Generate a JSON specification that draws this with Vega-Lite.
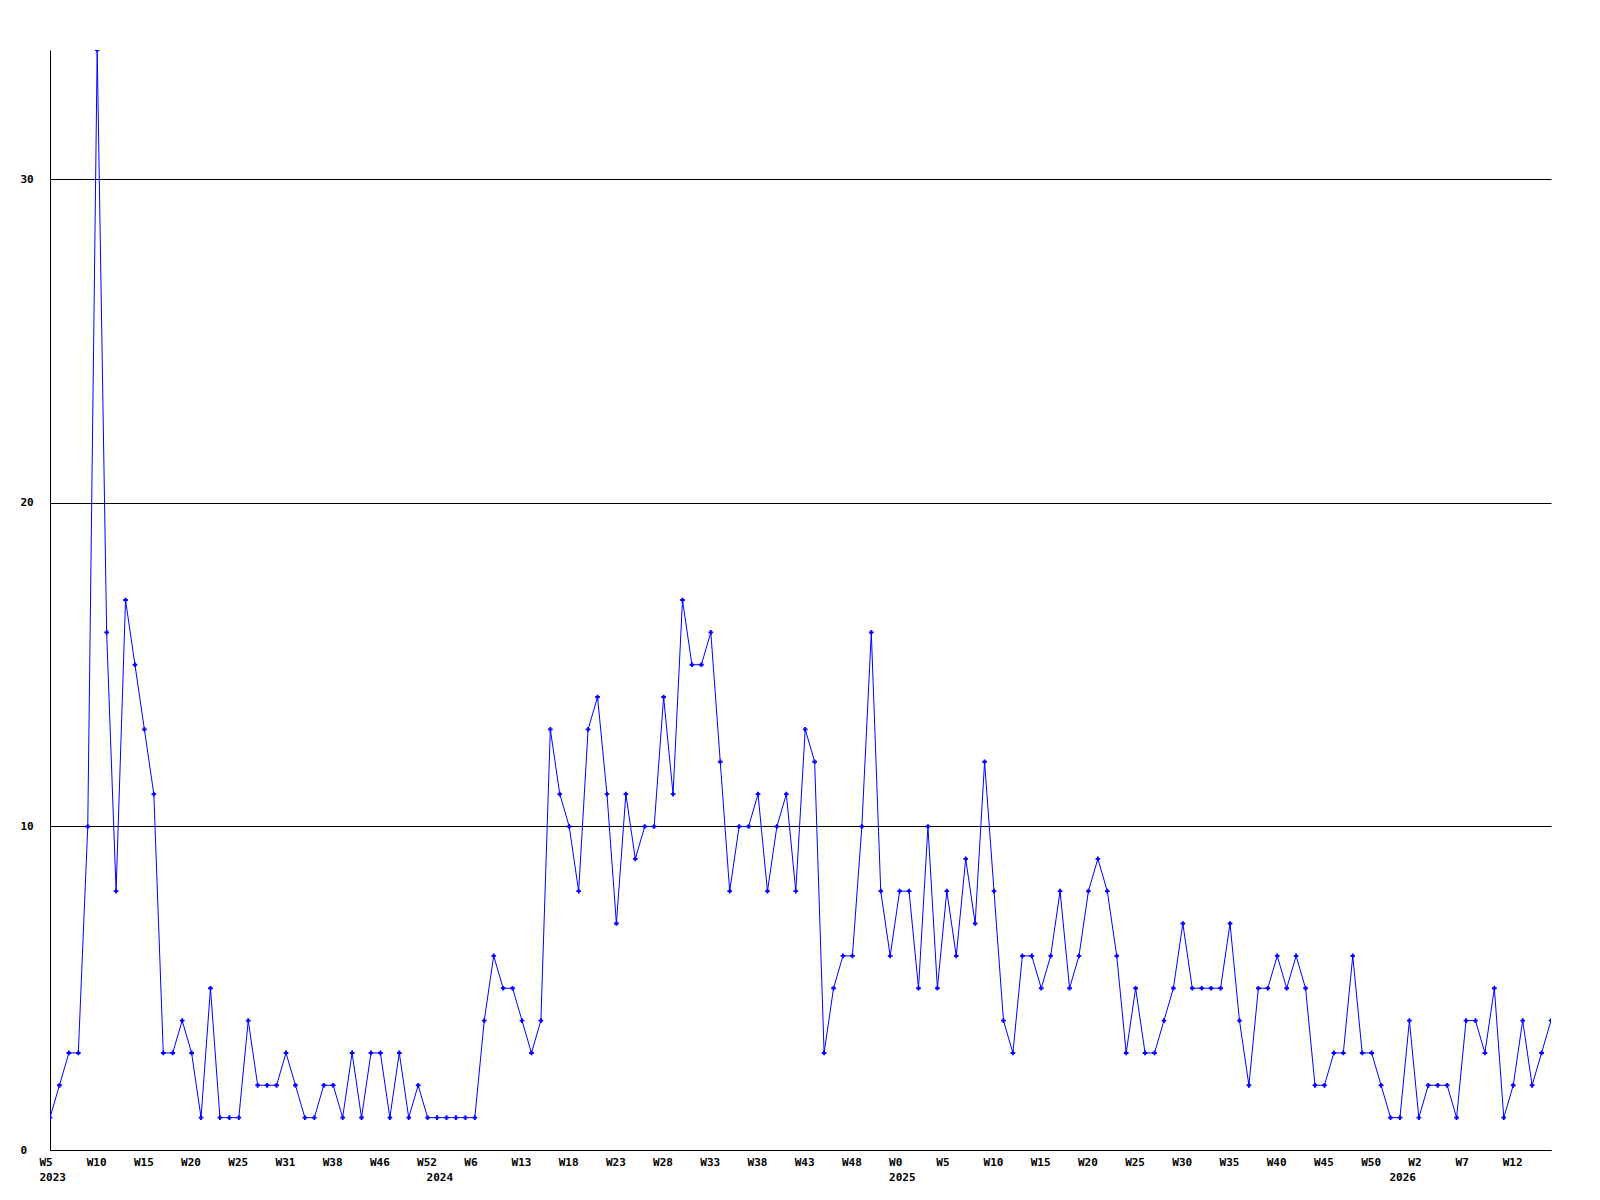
{
  "$schema": "https://vega.github.io/schema/vega-lite/v6.json",
  "width": 1501,
  "height": 1100,
  "autosize": "none",
  "padding": {"left": 50, "top": 50, "right": 49, "bottom": 50},
  "background": "white",
  "config": {"view": {"stroke": null}},
  "data": {"values": [
    {"key": "2023 W5", "v": 1}, {"key": "2023 W6", "v": 2}, {"key": "2023 W7", "v": 3}, {"key": "2023 W8", "v": 3}, {"key": "2023 W9", "v": 10},
    {"key": "2023 W10", "v": 34}, {"key": "2023 W11", "v": 16}, {"key": "2023 W12", "v": 8}, {"key": "2023 W13", "v": 17}, {"key": "2023 W14", "v": 15},
    {"key": "2023 W15", "v": 13}, {"key": "2023 W16", "v": 11}, {"key": "2023 W17", "v": 3}, {"key": "2023 W18", "v": 3}, {"key": "2023 W19", "v": 4},
    {"key": "2023 W20", "v": 3}, {"key": "2023 W21", "v": 1}, {"key": "2023 W22", "v": 5}, {"key": "2023 W23", "v": 1}, {"key": "2023 W24", "v": 1},
    {"key": "2023 W25", "v": 1}, {"key": "2023 W26", "v": 4}, {"key": "2023 W27", "v": 2}, {"key": "2023 W29", "v": 2}, {"key": "2023 W30", "v": 2},
    {"key": "2023 W31", "v": 3}, {"key": "2023 W32", "v": 2}, {"key": "2023 W34", "v": 1}, {"key": "2023 W35", "v": 1}, {"key": "2023 W36", "v": 2},
    {"key": "2023 W38", "v": 2}, {"key": "2023 W39", "v": 1}, {"key": "2023 W41", "v": 3}, {"key": "2023 W42", "v": 1}, {"key": "2023 W44", "v": 3},
    {"key": "2023 W46", "v": 3}, {"key": "2023 W47", "v": 1}, {"key": "2023 W48", "v": 3}, {"key": "2023 W49", "v": 1}, {"key": "2023 W51", "v": 2},
    {"key": "2023 W52", "v": 1},
    {"key": "2024 W1", "v": 1}, {"key": "2024 W2", "v": 1}, {"key": "2024 W3", "v": 1}, {"key": "2024 W5", "v": 1},
    {"key": "2024 W6", "v": 1}, {"key": "2024 W7", "v": 4}, {"key": "2024 W9", "v": 6}, {"key": "2024 W10", "v": 5}, {"key": "2024 W12", "v": 5},
    {"key": "2024 W13", "v": 4}, {"key": "2024 W14", "v": 3}, {"key": "2024 W15", "v": 4}, {"key": "2024 W16", "v": 13}, {"key": "2024 W17", "v": 11},
    {"key": "2024 W18", "v": 10}, {"key": "2024 W19", "v": 8}, {"key": "2024 W20", "v": 13}, {"key": "2024 W21", "v": 14}, {"key": "2024 W22", "v": 11},
    {"key": "2024 W23", "v": 7}, {"key": "2024 W24", "v": 11}, {"key": "2024 W25", "v": 9}, {"key": "2024 W26", "v": 10}, {"key": "2024 W27", "v": 10},
    {"key": "2024 W28", "v": 14}, {"key": "2024 W29", "v": 11}, {"key": "2024 W30", "v": 17}, {"key": "2024 W31", "v": 15}, {"key": "2024 W32", "v": 15},
    {"key": "2024 W33", "v": 16}, {"key": "2024 W34", "v": 12}, {"key": "2024 W35", "v": 8}, {"key": "2024 W36", "v": 10}, {"key": "2024 W37", "v": 10},
    {"key": "2024 W38", "v": 11}, {"key": "2024 W39", "v": 8}, {"key": "2024 W40", "v": 10}, {"key": "2024 W41", "v": 11}, {"key": "2024 W42", "v": 8},
    {"key": "2024 W43", "v": 13}, {"key": "2024 W44", "v": 12}, {"key": "2024 W45", "v": 3}, {"key": "2024 W46", "v": 5}, {"key": "2024 W47", "v": 6},
    {"key": "2024 W48", "v": 6}, {"key": "2024 W49", "v": 10}, {"key": "2024 W50", "v": 16}, {"key": "2024 W51", "v": 8}, {"key": "2024 W52", "v": 6},
    {"key": "2025 W0", "v": 8}, {"key": "2025 W1", "v": 8}, {"key": "2025 W2", "v": 5}, {"key": "2025 W3", "v": 10}, {"key": "2025 W4", "v": 5},
    {"key": "2025 W5", "v": 8}, {"key": "2025 W6", "v": 6}, {"key": "2025 W7", "v": 9}, {"key": "2025 W8", "v": 7}, {"key": "2025 W9", "v": 12},
    {"key": "2025 W10", "v": 8}, {"key": "2025 W11", "v": 4}, {"key": "2025 W12", "v": 3}, {"key": "2025 W13", "v": 6}, {"key": "2025 W14", "v": 6},
    {"key": "2025 W15", "v": 5}, {"key": "2025 W16", "v": 6}, {"key": "2025 W17", "v": 8}, {"key": "2025 W18", "v": 5}, {"key": "2025 W19", "v": 6},
    {"key": "2025 W20", "v": 8}, {"key": "2025 W21", "v": 9}, {"key": "2025 W22", "v": 8}, {"key": "2025 W23", "v": 6}, {"key": "2025 W24", "v": 3},
    {"key": "2025 W25", "v": 5}, {"key": "2025 W26", "v": 3}, {"key": "2025 W27", "v": 3}, {"key": "2025 W28", "v": 4}, {"key": "2025 W29", "v": 5},
    {"key": "2025 W30", "v": 7}, {"key": "2025 W31", "v": 5}, {"key": "2025 W32", "v": 5}, {"key": "2025 W33", "v": 5}, {"key": "2025 W34", "v": 5},
    {"key": "2025 W35", "v": 7}, {"key": "2025 W36", "v": 4}, {"key": "2025 W37", "v": 2}, {"key": "2025 W38", "v": 5}, {"key": "2025 W39", "v": 5},
    {"key": "2025 W40", "v": 6}, {"key": "2025 W41", "v": 5}, {"key": "2025 W42", "v": 6}, {"key": "2025 W43", "v": 5}, {"key": "2025 W44", "v": 2},
    {"key": "2025 W45", "v": 2}, {"key": "2025 W46", "v": 3}, {"key": "2025 W47", "v": 3}, {"key": "2025 W48", "v": 6}, {"key": "2025 W49", "v": 3},
    {"key": "2025 W50", "v": 3}, {"key": "2025 W51", "v": 2}, {"key": "2025 W52", "v": 1},
    {"key": "2026 W0", "v": 1}, {"key": "2026 W1", "v": 4},
    {"key": "2026 W2", "v": 1}, {"key": "2026 W3", "v": 2}, {"key": "2026 W4", "v": 2}, {"key": "2026 W5", "v": 2}, {"key": "2026 W6", "v": 1},
    {"key": "2026 W7", "v": 4}, {"key": "2026 W8", "v": 4}, {"key": "2026 W9", "v": 3}, {"key": "2026 W10", "v": 5}, {"key": "2026 W11", "v": 1},
    {"key": "2026 W12", "v": 2}, {"key": "2026 W13", "v": 4}, {"key": "2026 W14", "v": 2}, {"key": "2026 W15", "v": 3}, {"key": "2026 W16", "v": 4}
  ]},
  "encoding": {
    "x": {
      "field": "key",
      "type": "ordinal",
      "sort": null,
      "scale": {"type": "point", "padding": 0},
      "axis": {
        "title": null,
        "ticks": false,
        "grid": false,
        "domainColor": "#000000",
        "domainWidth": 1,
        "labelAngle": 0,
        "labelAlign": "left",
        "labelBaseline": "top",
        "labelPadding": 6,
        "labelOffset": -11,
        "labelFont": "DejaVu Sans Mono",
        "labelFontSize": 11,
        "labelFontWeight": "bold",
        "labelColor": "#000000",
        "labelLineHeight": 15,
        "labelOverlap": false,
        "values": ["2023 W5", "2023 W10", "2023 W15", "2023 W20", "2023 W25", "2023 W31", "2023 W38", "2023 W46", "2023 W52", "2024 W1", "2024 W6", "2024 W13", "2024 W18", "2024 W23", "2024 W28", "2024 W33", "2024 W38", "2024 W43", "2024 W48", "2025 W0", "2025 W5", "2025 W10", "2025 W15", "2025 W20", "2025 W25", "2025 W30", "2025 W35", "2025 W40", "2025 W45", "2025 W50", "2026 W0", "2026 W2", "2026 W7", "2026 W12"],
        "labelExpr": "indexof(['2023 W5','2025 W0'], datum.value) >= 0 ? [split(datum.value,' ')[1], split(datum.value,' ')[0]] : (indexof(['2024 W1','2026 W0'], datum.value) >= 0 ? ['', split(datum.value,' ')[0]] : split(datum.value,' ')[1])"
      }
    },
    "y": {
      "field": "v",
      "type": "quantitative",
      "scale": {"domain": [0, 34], "nice": false, "zero": true},
      "axis": {
        "title": null,
        "ticks": false,
        "tickSize": 0,
        "values": [0, 10, 20, 30],
        "grid": true,
        "gridColor": "#000000",
        "gridOpacity": 1,
        "gridWidth": 1,
        "domainColor": "#000000",
        "domainWidth": 1,
        "labelAlign": "left",
        "labelBaseline": "middle",
        "labelPadding": 30,
        "labelFont": "DejaVu Sans Mono",
        "labelFontSize": 11,
        "labelFontWeight": "bold",
        "labelColor": "#000000"
      }
    }
  },
  "layer": [
    {"mark": {"type": "line", "color": "#0000ff", "strokeWidth": 1, "clip": true}},
    {"mark": {"type": "point", "shape": "cross", "filled": true, "size": 22, "color": "#0000ff", "opacity": 1, "clip": true}}
  ]
}
